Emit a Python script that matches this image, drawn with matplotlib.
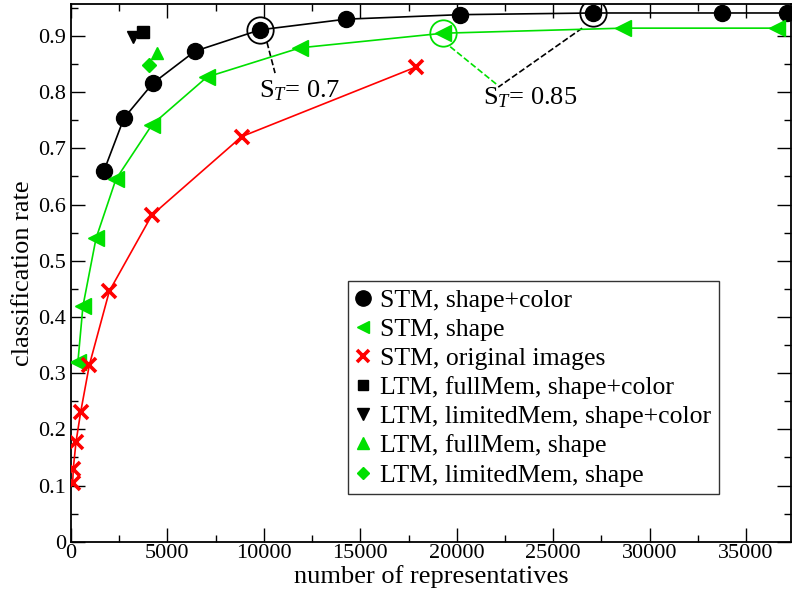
import matplotlib
matplotlib.use("Agg")
import matplotlib.pyplot as plt
from matplotlib.lines import Line2D
from matplotlib.ticker import MultipleLocator

plt.rcParams["font.family"] = ["Liberation Serif", "DejaVu Serif"]
plt.rcParams["mathtext.fontset"] = "custom"
plt.rcParams["mathtext.rm"] = "Liberation Serif"
plt.rcParams["mathtext.it"] = "Liberation Serif:italic"

GREEN = "#00e000"
RED = "#ff0000"

# STM, shape+color
stm_sc_x = [1710, 2750, 4250, 6430, 9800, 14260, 20180, 27080, 33770, 37140]
stm_sc_y = [0.660, 0.754, 0.816, 0.873, 0.911, 0.930, 0.938, 0.941, 0.941, 0.941]
# STM, shape
stm_s_x = [360, 620, 1300, 2330, 4200, 7050, 11880, 19300, 28630, 36620]
stm_s_y = [0.320, 0.419, 0.540, 0.645, 0.742, 0.827, 0.879, 0.905, 0.914, 0.914]
# STM, original images
stm_o_x = [90, 120, 260, 500, 950, 1990, 4190, 8850, 17900]
stm_o_y = [0.105, 0.130, 0.177, 0.230, 0.314, 0.446, 0.581, 0.721, 0.845]
# LTM single points
ltm_full_sc = (3750, 0.908)
ltm_lim_sc = (3200, 0.899)
ltm_full_s = (4450, 0.869)
ltm_lim_s = (4060, 0.848)

# highlighted operating points (S_T)
st07_black = (9800, 0.911)
st085_black = (27080, 0.941)
st085_green = (19300, 0.905)

fig = plt.figure(figsize=(7.92, 5.95), dpi=100)
ax = fig.add_axes([0.0896, 0.0896, 0.9097, 0.9037])

ax.plot(stm_sc_x, stm_sc_y, color="black", lw=1.2, marker="o", ms=11.5, clip_on=False, zorder=3)
ax.plot(stm_s_x, stm_s_y, color=GREEN, lw=1.2, marker="<", ms=11.5, zorder=3)
ax.plot(stm_o_x, stm_o_y, color=RED, lw=1.2, marker="x", ms=10, mew=2.6, zorder=3)
ax.plot(*ltm_full_sc, ls="none", marker="s", color="black", ms=8.5, zorder=3)
ax.plot(*ltm_lim_sc, ls="none", marker="v", color="black", ms=9, zorder=3)
ax.plot(*ltm_full_s, ls="none", marker="^", color=GREEN, ms=9, zorder=3)
ax.plot(*ltm_lim_s, ls="none", marker="D", color=GREEN, ms=7, zorder=3)

# open rings around the S_T points
for (px, py), c in [(st07_black, "black"), (st085_black, "black"), (st085_green, GREEN)]:
    ax.plot(px, py, ls="none", marker="o", ms=19, mfc="none", mec=c, mew=1.3, zorder=4)

# dashed leader lines + labels
ax.plot([10160, 10580], [0.889, 0.834], color="black", ls="--", lw=1.2)
ax.text(9750, 0.790, r"S$_{T}$= 0.7", fontsize=19, va="baseline")
ax.plot([19660, 22100], [0.881, 0.813], color=GREEN, ls="--", lw=1.2)
ax.plot([26500, 22150], [0.914, 0.809], color="black", ls="--", lw=1.2)
ax.text(21370, 0.779, r"S$_{T}$= 0.85", fontsize=19, va="baseline")

ax.set_xlim(0, 37350)
ax.set_ylim(0, 0.957)
ax.xaxis.set_major_locator(MultipleLocator(5000))
ax.xaxis.set_minor_locator(MultipleLocator(2500))
ax.yaxis.set_minor_locator(MultipleLocator(0.05))
ax.set_yticks([0, 0.1, 0.2, 0.3, 0.4, 0.5, 0.6, 0.7, 0.8, 0.9])
ax.set_yticklabels(["0", "0.1", "0.2", "0.3", "0.4", "0.5", "0.6", "0.7", "0.8", "0.9"])
ax.tick_params(which="both", direction="in", top=True, right=True, labelsize=16, width=1)
ax.tick_params(which="major", length=10)
ax.tick_params(which="minor", length=5)
ax.tick_params(axis="x", pad=2)
for s in ax.spines.values():
    s.set_linewidth(1.3)

ax.set_xlabel("number of representatives", fontsize=19, labelpad=1)
ax.set_ylabel("classification rate", fontsize=19, labelpad=3)

handles = [
    Line2D([], [], ls="none", marker="o", color="black", ms=11),
    Line2D([], [], ls="none", marker="<", color=GREEN, ms=9),
    Line2D([], [], ls="none", marker="x", color=RED, ms=9, mew=2.6),
    Line2D([], [], ls="none", marker="s", color="black", ms=7),
    Line2D([], [], ls="none", marker="v", color="black", ms=8),
    Line2D([], [], ls="none", marker="^", color=GREEN, ms=8),
    Line2D([], [], ls="none", marker="D", color=GREEN, ms=6),
]
labels = [
    "STM, shape+color",
    "STM, shape",
    "STM, original images",
    "LTM, fullMem, shape+color",
    "LTM, limitedMem, shape+color",
    "LTM, fullMem, shape",
    "LTM, limitedMem, shape",
]
leg = ax.legend(handles, labels, loc="upper left", bbox_to_anchor=(0.384, 0.485),
                fontsize=18.5, frameon=True, fancybox=False, edgecolor="black",
                handlelength=0.6, handletextpad=0.35, labelspacing=0.24,
                borderpad=0.3, borderaxespad=0)
leg.get_frame().set_linewidth(1.0)

fig.savefig("out.png", dpi=100)
